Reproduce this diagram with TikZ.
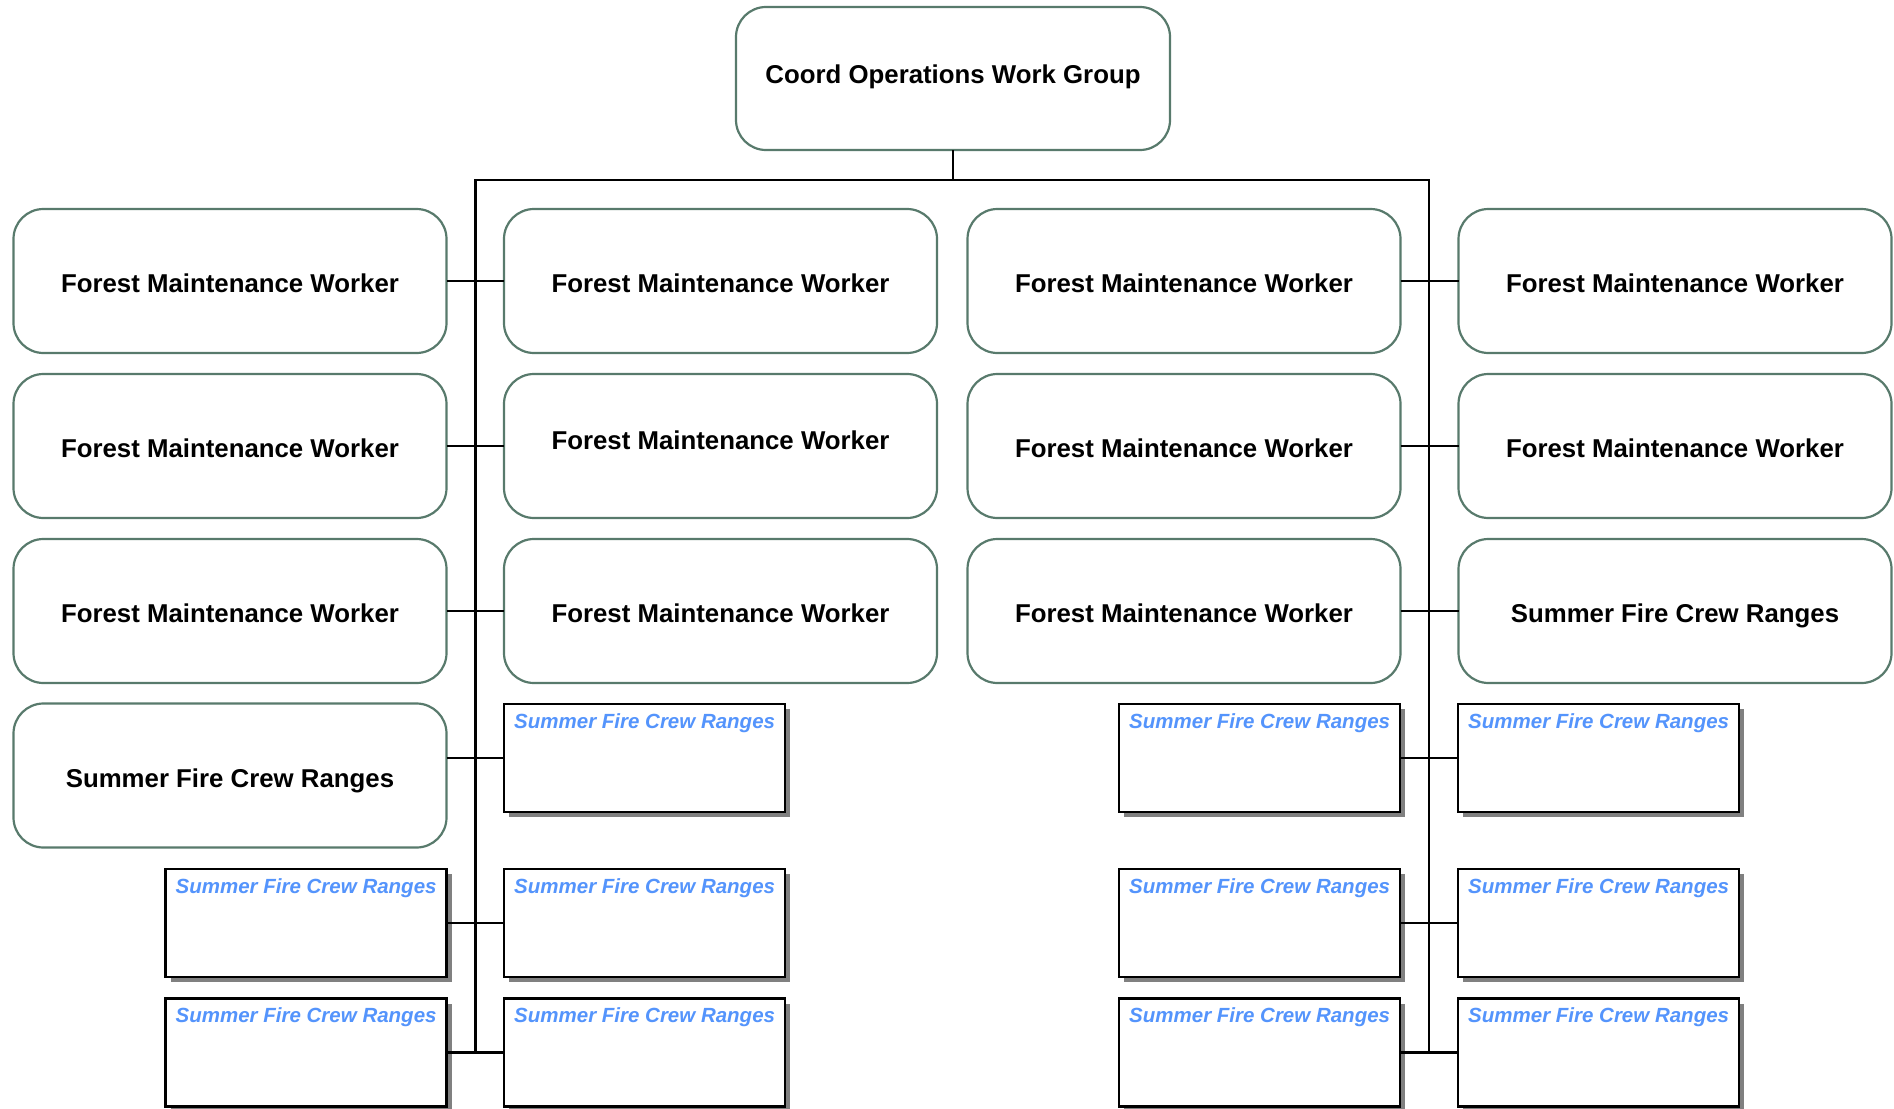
\documentclass[tikz,border=0pt]{standalone}
\usepackage{fontspec}
\setmainfont{Liberation Sans}
\usetikzlibrary{shadows}
\definecolor{boxline}{RGB}{88,122,108}
\definecolor{bluetxt}{RGB}{84,148,252}
\definecolor{shadowgray}{RGB}{128,128,128}
\begin{document}
\begin{tikzpicture}[x=1pt,y=-1pt,
  bigbox/.style={draw=boxline, line width=2.2pt, rounded corners=30pt, minimum width=433pt, minimum height=144pt, inner sep=0pt, outer sep=0pt, fill=white, font=\fontsize{25.8pt}{30pt}\selectfont\bfseries, text height=23.6pt, text depth=0pt},
  smallbox/.style={draw=black, line width=2.6pt, minimum width=281pt, minimum height=108pt, inner sep=0pt, outer sep=0pt, fill=white, drop shadow={shadow xshift=5pt, shadow yshift=-5pt, fill=shadowgray, opacity=1}},
  smalltext/.style={anchor=north west, inner sep=0pt, text=bluetxt, font=\fontsize{20.5pt}{24pt}\selectfont\bfseries\itshape, text height=14.8pt, text depth=0pt},
  conn/.style={draw=black, line width=2.5pt}
]
\useasboundingbox (0,0) rectangle (1894,1108);

% root
\node[bigbox, minimum width=434pt, minimum height=143pt, text depth=14pt] (root) at (953,78.5) {Coord Operations Work Group};

% big boxes
\node[bigbox] (b11) at (230,281) {Forest Maintenance Worker};
\node[bigbox] (b12) at (720.5,281) {Forest Maintenance Worker};
\node[bigbox] (b13) at (1184,281) {Forest Maintenance Worker};
\node[bigbox] (b14) at (1675,281) {Forest Maintenance Worker};
\node[bigbox] (b21) at (230,446) {Forest Maintenance Worker};
\node[bigbox, text depth=16pt] (b22) at (720.5,446) {Forest Maintenance Worker};
\node[bigbox] (b23) at (1184,446) {Forest Maintenance Worker};
\node[bigbox] (b24) at (1675,446) {Forest Maintenance Worker};
\node[bigbox] (b31) at (230,611) {Forest Maintenance Worker};
\node[bigbox] (b32) at (720.5,611) {Forest Maintenance Worker};
\node[bigbox] (b33) at (1184,611) {Forest Maintenance Worker};
\node[bigbox] (b34) at (1675,611) {Summer Fire Crew Ranges};
\node[bigbox] (b41) at (230,775.5) {Summer Fire Crew Ranges};

% small boxes
\foreach \n/\x/\y in {s42/644.5/758, s43/1259.5/758, s44/1598.5/758,
                      s51/306/923, s52/644.5/923, s53/1259.5/923, s54/1598.5/923,
                      s61/306/1052.5, s62/644.5/1052.5, s63/1259.5/1052.5, s64/1598.5/1052.5}{
  \node[smallbox] (\n) at (\x,\y) {};
  \node[smalltext] (\n t) at ([xshift=10pt,yshift=-9pt]\n.north west) {Summer Fire Crew Ranges};
}

% bus
\coordinate (busL) at (475.5,180);
\coordinate (busR) at (1429,180);
\draw[conn] (root.south) -- (root.south |- busL);
\draw[conn] (busL |- s61.west) -- (busL) -- (busR) -- (busR |- s64.west);

% connectors
\draw[conn] (b11.east) -- (b12.west);
\draw[conn] (b13.east) -- (b14.west);
\draw[conn] (b21.east) -- (b22.west);
\draw[conn] (b23.east) -- (b24.west);
\draw[conn] (b31.east) -- (b32.west);
\draw[conn] (b33.east) -- (b34.west);
\draw[conn] (b41.east |- s42.west) -- (s42.west);
\draw[conn] (s43.east) -- (s44.west);
\draw[conn] (s51.east) -- (s52.west);
\draw[conn] (s53.east) -- (s54.west);
\draw[conn] (s61.east) -- (s62.west);
\draw[conn] (s63.east) -- (s64.west);
\end{tikzpicture}
\end{document}
